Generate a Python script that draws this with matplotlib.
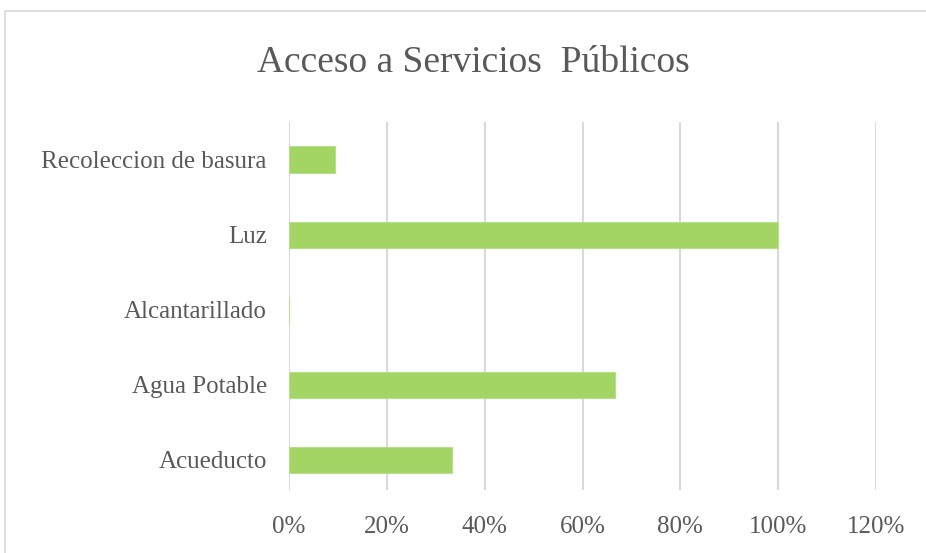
import matplotlib
matplotlib.use('Agg')
import matplotlib.pyplot as plt
from matplotlib.patches import Rectangle
from matplotlib.ticker import PercentFormatter

# datos
categorias = ['Acueducto', 'Agua Potable', 'Alcantarillado', 'Luz', 'Recoleccion de basura']
valores = [0.333, 0.667, 0.0, 1.0, 0.095]
ticks_x = [0, 0.2, 0.4, 0.6, 0.8, 1.0, 1.2]

plt.rcParams['font.family'] = ['Liberation Serif', 'DejaVu Serif']
gris = '#595959'

fig = plt.figure(figsize=(9.26, 5.53), dpi=100)
ax = fig.add_axes([289/926, 1 - 490/553, (876 - 289)/926, (490 - 122)/553])

ax.barh(range(len(categorias)), valores, height=0.35, color='#a2d563',
        edgecolor='#b8e08a', linewidth=0.8, zorder=3)

ax.set_xlim(0, 1.2)
ax.set_ylim(-0.4, 4.5)
ax.set_xticks(ticks_x)
ax.xaxis.set_major_formatter(PercentFormatter(1.0, decimals=0))
ax.set_yticks(range(len(categorias)))
ax.set_yticklabels(categorias)
ax.tick_params(axis='both', length=0, labelsize=18, colors=gris)
ax.tick_params(axis='x', pad=19)
ax.tick_params(axis='y', pad=16)
ax.grid(axis='x', color='#d9d9d9', linewidth=1.5, zorder=0)
for s in ax.spines.values():
    s.set_visible(False)

fig.text(473/926, 1 - 63/553, 'Acceso a Servicios  Públicos', ha='center', va='center',
         fontsize=27, color=gris)

# marco del grafico
fig.patches.append(Rectangle((5/926, -0.01), 1.0, 1 - 11/553 + 0.01, transform=fig.transFigure,
                             fill=False, edgecolor='#d9d9d9', linewidth=1.2))

fig.savefig('out.png', dpi=100)
